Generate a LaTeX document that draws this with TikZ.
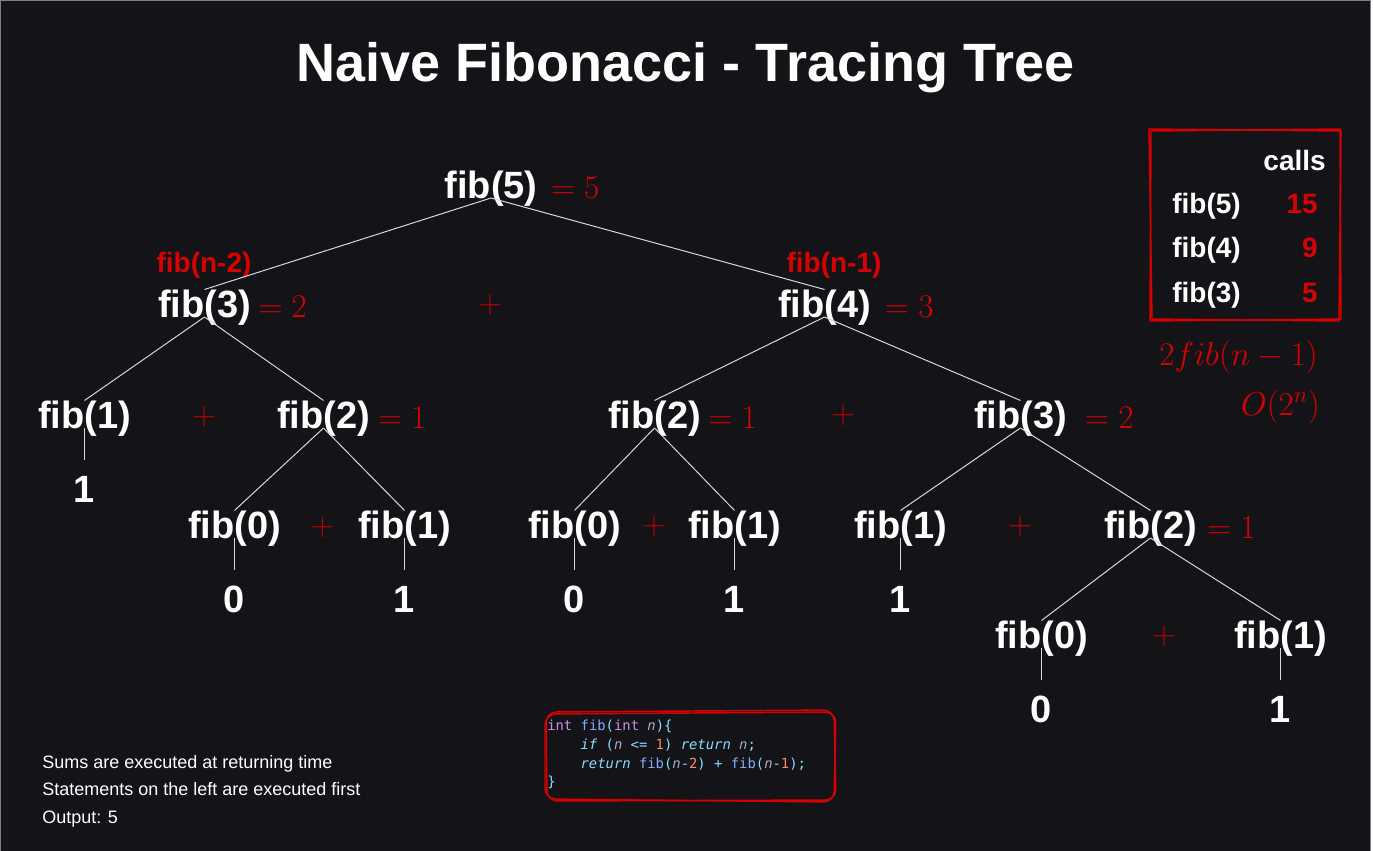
\documentclass[tikz,border=0pt]{standalone}
\usepackage{fontspec}
\setmainfont{Liberation Sans}
\setmonofont{DejaVu Sans Mono}
\usetikzlibrary{positioning}

\definecolor{bgdark}{RGB}{20,20,24}
\definecolor{framegray}{RGB}{128,128,128}
\definecolor{sumred}{RGB}{215,0,0}
\definecolor{plusred}{RGB}{185,0,0}
\definecolor{linkgray}{RGB}{215,215,215}
\definecolor{cdkw}{HTML}{C792EA}
\definecolor{cdfn}{HTML}{82AAFF}
\definecolor{cdpu}{HTML}{89DDFF}
\definecolor{cdvar}{HTML}{A6ACCD}
\definecolor{cdnum}{HTML}{F78C6C}

% code colouring
\newcommand{\kw}[1]{\textcolor{cdkw}{#1}}
\newcommand{\fn}[1]{\textcolor{cdfn}{#1}}
\newcommand{\pu}[1]{\textcolor{cdpu}{#1}}
\newcommand{\va}[1]{\textcolor{cdvar}{\itshape #1}}
\newcommand{\ikw}[1]{\textcolor{cdpu}{\itshape #1}}
\newcommand{\nm}[1]{\textcolor{cdnum}{#1}}
\newcommand{\ind}{\hspace*{25pt}}

\begin{document}
\begin{tikzpicture}[
  x=0.75pt,y=-0.75pt,
  call/.style={text=white,font=\fontsize{28.5}{34}\selectfont\bfseries,inner sep=0pt,outer sep=0pt,text depth=0pt,anchor=base},
  leaf/.style={call,outer sep=12pt},
  val/.style={text=sumred,font=\fontsize{26}{31}\selectfont,inner sep=0pt},
  plus/.style={text=plusred,font=\fontsize{25.5}{30}\selectfont,inner sep=0pt},
  lbl/.style={text=sumred,font=\fontsize{21}{25}\selectfont\bfseries,inner sep=0pt,text depth=0pt,anchor=base},
  tbl/.style={text=white,font=\fontsize{21}{25}\selectfont\bfseries,inner sep=0pt},
  tblnum/.style={tbl,text=sumred,anchor=base east},
  cost/.style={text=sumred,font=\fontsize{25}{30}\selectfont,inner sep=0pt,anchor=base east},
  link/.style={draw=linkgray,line width=0.75pt},
  sketch/.style={draw=sumred,line width=1.1pt,line join=round}
]
% canvas
\useasboundingbox (0,0) rectangle (1373,850);
\fill[white] (0,0) rectangle (1373,850);
\filldraw[fill=bgdark,draw=framegray,line width=1pt] (0.5,850.5) -- (0.5,0.5) -- (1370.5,0.5) -- (1370.5,850.5);

\node[text=white,font=\fontsize{40.5}{48}\selectfont\bfseries,anchor=base] (ttl) at (685.5,81) {Naive Fibonacci - Tracing Tree};

% Row 1
\node[call] (f5) at (491,198) {fib(5)};
% Row 2
\node[call] (f3a) at (204.5,317) {fib(3)};
\node[call] (f4) at (824.5,317) {fib(4)};
% Row 3
\node[call] (f1a) at (84.5,428) {fib(1)};
\node[call] (f2a) at (323.5,428) {fib(2)};
\node[call] (f2b) at (654.5,428) {fib(2)};
\node[call] (f3b) at (1020.5,428) {fib(3)};
% Row 4
\node[call] (f0a) at (234.5,538) {fib(0)};
\node[call] (f1b) at (404.5,538) {fib(1)};
\node[call] (f0b) at (574.5,538) {fib(0)};
\node[call] (f1c) at (734.5,538) {fib(1)};
\node[call] (f1d) at (900.5,538) {fib(1)};
\node[call] (f2c) at (1150.5,538) {fib(2)};
% Row 5
\node[call] (f0c) at (1041.5,648) {fib(0)};
\node[call] (f1e) at (1280.5,648) {fib(1)};

% base cases
\node[leaf,below=24pt of f1a] (v1a) {1};
\node[leaf,below=24pt of f0a] (v0a) {0};
\node[leaf,below=24pt of f1b] (v1b) {1};
\node[leaf,below=24pt of f0b] (v0b) {0};
\node[leaf,below=24pt of f1c] (v1c) {1};
\node[leaf,below=24pt of f1d] (v1d) {1};
\node[leaf,below=24pt of f0c] (v0c) {0};
\node[leaf,below=24pt of f1e] (v1e) {1};

% returned sums
\node[val,base right=10pt of f5] (e5) {$=5$};
\node[val,base right=5.5pt of f3a] (e3a) {$=2$};
\node[val,base right=10.5pt of f4] (e4) {$=3$};
\node[val,base right=6pt of f2a] (e2a) {$=1$};
\node[val,base right=5.5pt of f2b] (e2b) {$=1$};
\node[val,base right=13.5pt of f3b] (e3b) {$=2$};
\node[val,base right=7.5pt of f2c] (e2c) {$=1$};

\node[plus] (p1) at (490,305) {$+$};
\node[plus] (p2) at (204,417) {$+$};
\node[plus] (p3) at (843,415) {$+$};
\node[plus] (p4) at (322.5,527) {$+$};
\node[plus] (p5) at (654,526) {$+$};
\node[plus] (p6) at (1020,526) {$+$};
\node[plus] (p7) at (1164,636) {$+$};

\node[lbl] (lbl2) at (204,272) {fib(n-2)};
\node[lbl] (lbl1) at (834,272) {fib(n-1)};

\draw[link] (f5.south) -- (f3a.north);
\draw[link] (f5.south) -- (f4.north);
\draw[link] (f3a.south) -- (f1a.north);
\draw[link] (f3a.south) -- (f2a.north);
\draw[link] (f4.south) -- (f2b.north);
\draw[link] (f4.south) -- (f3b.north);
\draw[link] (f2a.south) -- (f0a.north);
\draw[link] (f2a.south) -- (f1b.north);
\draw[link] (f2b.south) -- (f0b.north);
\draw[link] (f2b.south) -- (f1c.north);
\draw[link] (f3b.south) -- (f1d.north);
\draw[link] (f3b.south) -- (f2c.north);
\draw[link] (f2c.south) -- (f0c.north);
\draw[link] (f2c.south) -- (f1e.north);
\draw[link] (f1a.south) -- (v1a.north);
\draw[link] (f0a.south) -- (v0a.north);
\draw[link] (f1b.south) -- (v1b.north);
\draw[link] (f0b.south) -- (v0b.north);
\draw[link] (f1c.south) -- (v1c.north);
\draw[link] (f1d.south) -- (v1d.north);
\draw[link] (f0c.south) -- (v0c.north);
\draw[link] (f1e.south) -- (v1e.north);

% call count table
\draw[sketch] (1151,131) -- (1340,129) -- (1341,319) -- (1150,321) -- cycle;
\draw[sketch] (1149,129) -- (1341,131) -- (1339,321) -- (1152,319) -- cycle;
\node[tbl,anchor=base east] (tcalls) at (1326,170) {calls};
\node[tbl,anchor=base west] (t5) at (1172,213) {fib(5)};
\node[tbl,anchor=base west] (t4) at (1172,257) {fib(4)};
\node[tbl,anchor=base west] (t3) at (1172,302) {fib(3)};
\node[tblnum] (n5) at (1318,213) {15};
\node[tblnum] (n4) at (1318,257) {9};
\node[tblnum] (n3) at (1318,302) {5};
\node[cost] (rec) at (1318,365) {$2fib(n-1)$};
\node[cost] (big) at (1320,415) {$O(2^n)$};

% notes
\node[text=white,font=\fontsize{13.5}{20.6}\selectfont,align=left,inner sep=0pt,anchor=north west] (notes) at (42,755)
  {Sums are executed at returning time\\Statements on the left are executed first\\Output: 5};

% code
\draw[sketch,rounded corners=8] (546,712) -- (834,710) -- (836,800) -- (547,801) -- cycle;
\draw[sketch,rounded corners=8] (545,714) -- (836,712) -- (834,802) -- (545,799) -- cycle;
\node[font=\fontsize{10.4}{14}\selectfont\ttfamily,align=left,inner sep=0pt,anchor=north west] (code) at (547,720)
  {\kw{int} \fn{fib}\pu{(}\kw{int} \va{n}\pu{)\{}\\
   \ind\ikw{if} \pu{(}\va{n} \pu{<=} \nm{1}\pu{)} \ikw{return} \va{n}\pu{;}\\
   \ind\ikw{return} \fn{fib}\pu{(}\va{n}\pu{-}\nm{2}\pu{)} \pu{+} \fn{fib}\pu{(}\va{n}\pu{-}\nm{1}\pu{);}\\
   \pu{\}}};
\end{tikzpicture}
\end{document}
